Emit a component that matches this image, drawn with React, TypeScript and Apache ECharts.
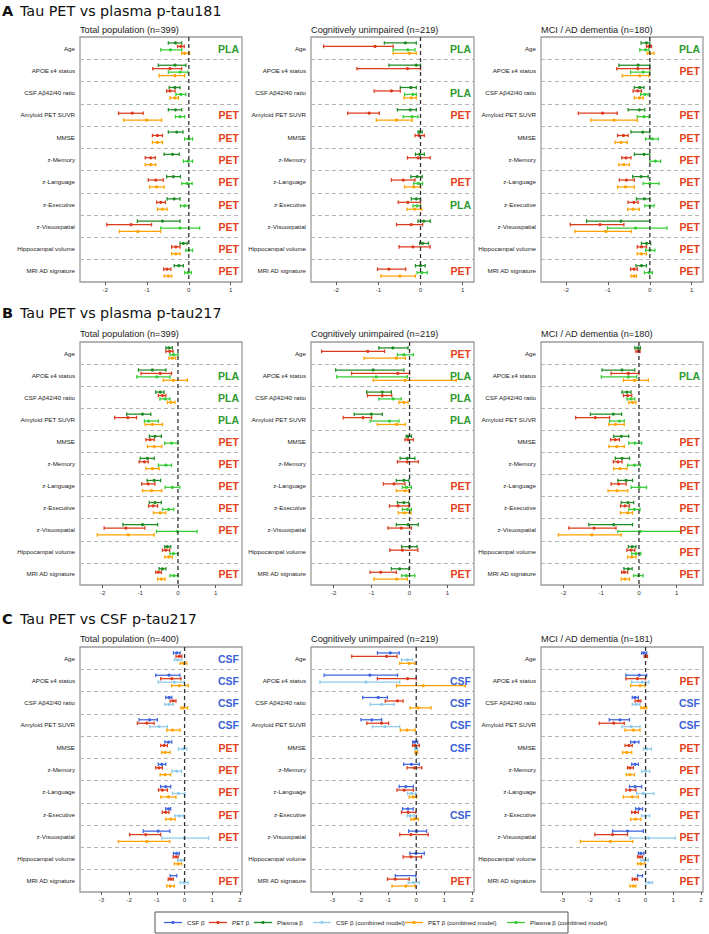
import React, { useEffect, useRef } from "react";
import * as echarts from "echarts";

type Est = [number, number, number] | null; // [estimate, lower, upper]

const variables = [
  "Age",
  "APOE ε4 status",
  "CSF Aβ42/40 ratio",
  "Amyloid PET SUVR",
  "MMSE",
  "z-Memory",
  "z-Language",
  "z-Executive",
  "z-Visuospatial",
  "Hippocampal volume",
  "MRI AD signature",
];

const rowTitles = [
  ["A", "Tau PET vs plasma p-tau181"],
  ["B", "Tau PET vs plasma p-tau217"],
  ["C", "Tau PET vs CSF p-tau217"],
];
const colTitlesA = ["Total population (n=399)", "Cognitively unimpaired (n=219)", "MCI / AD dementia (n=180)"];
const colTitlesB = ["Total population (n=399)", "Cognitively unimpaired (n=219)", "MCI / AD dementia (n=180)"];
const colTitlesC = ["Total population (n=400)", "Cognitively unimpaired (n=219)", "MCI / AD dementia (n=181)"];

const ticksAB = [-2, -1, 0, 1];
const ticksC = [-3, -2, -1, 0, 1, 2];

const legendNames = [
  "CSF β",
  "PET β",
  "Plasma β",
  "CSF β (combined model)",
  "PET β (combined model)",
  "Plasma β (combined model)",
];

// ---------- Panel A: Tau PET vs plasma p-tau181 ----------
const A1_plasma: Est[] = [[-0.32,-0.49,-0.17],[-0.33,-0.73,-0.07],[-0.33,-0.47,-0.21],[-0.32,-0.49,-0.17],[-0.29,-0.49,-0.14],[-0.39,-0.59,-0.23],[-0.37,-0.53,-0.20],[-0.35,-0.52,-0.21],[-0.63,-1.23,-0.21],[-0.13,-0.21,-0.04],[-0.24,-0.35,-0.13]];
const A1_pet: Est[] = [[-0.19,-0.27,-0.11],[-0.45,-0.86,-0.17],[-0.45,-0.53,-0.33],[-1.35,-1.68,-1.09],[-0.75,-0.87,-0.63],[-0.91,-1.04,-0.80],[-0.79,-0.97,-0.61],[-0.67,-0.77,-0.56],[-1.38,-1.96,-0.89],[-0.31,-0.41,-0.21],[-0.52,-0.60,-0.43]];
const A1_plasmaC: Est[] = [[-0.44,-0.67,-0.17],[-0.21,-0.49,-0.02],[-0.19,-0.31,-0.07],[-0.21,-0.32,-0.10],[0,-0.10,0.09],[-0.02,-0.13,0.09],[-0.04,-0.17,0.08],[-0.10,-0.20,0],[-0.21,-0.67,0.26],[0,-0.07,0.09],[-0.02,-0.10,0.06]];
const A1_petC: Est[] = [[-0.10,-0.17,0.02],[-0.33,-0.71,-0.10],[-0.33,-0.45,-0.25],[-1.01,-1.56,-0.65],[-0.75,-0.87,-0.63],[-0.91,-1.04,-0.79],[-0.77,-0.94,-0.59],[-0.63,-0.75,-0.52],[-1.22,-1.66,-0.67],[-0.31,-0.41,-0.21],[-0.49,-0.59,-0.41]];
const A1_labels = ["PLA","","","PET","PET","PET","PET","PET","PET","PET","PET"];

const A2_plasma: Est[] = [[-0.36,-0.86,-0.10],[-0.10,-0.75,0],[-0.23,-0.48,-0.10],[-0.24,-0.55,-0.10],[-0.02,-0.06,0.04],[-0.02,-0.12,0.09],[-0.08,-0.23,0.04],[-0.10,-0.22,0],[0.08,-0.06,0.23],[0.05,-0.02,0.19],[0,-0.12,0.11]];
const A2_pet: Est[] = [[-1.08,-2.30,-0.65],[-0.31,-1.51,0],[-0.69,-1.10,-0.48],[-1.22,-1.73,-0.98],[-0.04,-0.13,0.09],[-0.06,-0.31,0.23],[-0.41,-0.69,-0.13],[-0.30,-0.53,0],[-0.22,-0.57,0.05],[-0.18,-0.51,0.23],[-0.75,-1.02,-0.35]];
const A2_plasmaC: Est[] = [[-0.30,-0.65,-0.13],null,[-0.18,-0.38,-0.10],[-0.20,-0.41,-0.06],null,null,[-0.05,-0.16,0.05],[-0.08,-0.18,0],null,null,[0.03,-0.08,0.16]];
const A2_petC: Est[] = [[-0.26,-0.65,-0.10],null,[-0.22,-0.39,-0.10],[-0.57,-1.05,-0.20],null,null,[-0.16,-0.38,0],[-0.14,-0.32,0.03],null,null,[-0.49,-0.94,-0.12]];
const A2_labels = ["PLA","","PLA","PET","","","PET","PLA","","","PET"];

const A3_plasma: Est[] = [[-0.08,-0.21,0],[-0.28,-0.74,0],[-0.24,-0.37,-0.14],[-0.25,-0.52,-0.12],[-0.17,-0.45,0],[-0.14,-0.37,0],[-0.21,-0.41,-0.04],[-0.13,-0.32,0],[-0.69,-1.51,0],[-0.08,-0.20,0.02],[-0.20,-0.33,-0.08]];
const A3_pet: Est[] = [[-0.02,-0.08,0.04],[-0.29,-0.79,0],[-0.29,-0.40,-0.20],[-1.13,-1.71,-0.78],[-0.63,-0.77,-0.52],[-0.57,-0.67,-0.45],[-0.56,-0.73,-0.37],[-0.38,-0.52,-0.28],[-1.19,-1.90,-0.62],[-0.20,-0.30,-0.08],[-0.38,-0.46,-0.30]];
const A3_plasmaC: Est[] = [[-0.10,-0.24,-0.02],[-0.16,-0.46,0],[-0.12,-0.22,-0.04],[-0.14,-0.30,-0.02],[0.06,-0.10,0.20],[0.13,0,0.26],[0,-0.16,0.22],[0,-0.12,0.10],[-0.34,-1.01,0.41],[0,-0.10,0.12],[-0.02,-0.13,0.06]];
const A3_petC: Est[] = [[0,-0.06,0.10],[-0.24,-0.66,-0.02],[-0.25,-0.37,-0.16],[-0.86,-1.41,-0.30],[-0.69,-0.83,-0.54],[-0.62,-0.74,-0.49],[-0.58,-0.77,-0.37],[-0.40,-0.53,-0.25],[-1.05,-1.79,-0.44],[-0.20,-0.30,-0.08],[-0.38,-0.45,-0.32]];
const A3_labels = ["PLA","PET","","PET","PET","PET","PET","PET","PET","PET","PET"];

// ---------- Panel B: Tau PET vs plasma p-tau217 ----------
const B1_plasma: Est[] = [[-0.24,-0.32,-0.15],[-0.68,-1.05,-0.32],[-0.47,-0.59,-0.37],[-0.94,-1.36,-0.72],[-0.61,-0.76,-0.44],[-0.81,-1.00,-0.63],[-0.63,-0.82,-0.46],[-0.61,-0.76,-0.44],[-0.94,-1.46,-0.54],[-0.28,-0.35,-0.19],[-0.41,-0.50,-0.32]];
const B1_pet: Est[] = [[-0.22,-0.32,-0.13],[-0.47,-0.98,-0.17],[-0.41,-0.52,-0.32],[-1.33,-1.68,-1.10],[-0.74,-0.85,-0.63],[-0.89,-1.03,-0.79],[-0.79,-0.96,-0.61],[-0.66,-0.78,-0.54],[-1.38,-1.96,-0.88],[-0.32,-0.41,-0.22],[-0.52,-0.59,-0.44]];
const B1_plasmaC: Est[] = [[-0.11,-0.21,0],[-0.56,-1.09,-0.21],[-0.34,-0.48,-0.21],[-0.78,-0.89,-0.52],[-0.17,-0.35,0],[-0.32,-0.52,-0.17],[-0.15,-0.34,0.05],[-0.25,-0.41,-0.11],[-0.02,-0.57,0.51],[-0.12,-0.21,0],[-0.11,-0.21,0.01]];
const B1_petC: Est[] = [[-0.15,-0.24,-0.06],[-0.12,-0.39,0.25],[-0.18,-0.28,-0.08],[-0.68,-0.87,-0.41],[-0.63,-0.81,-0.43],[-0.68,-0.85,-0.50],[-0.70,-0.94,-0.43],[-0.47,-0.65,-0.32],[-1.32,-2.14,-0.63],[-0.24,-0.35,-0.15],[-0.44,-0.54,-0.34]];
const B1_labels = ["","PLA","PLA","PLA","PET","PET","PET","PET","PET","","PET"];

const B2_plasma: Est[] = [[-0.44,-0.81,-0.04],[-0.96,-1.95,-0.15],[-0.72,-1.13,-0.48],[-1.01,-1.46,-0.72],[-0.04,-0.09,0.05],[-0.06,-0.25,0.14],[-0.15,-0.35,-0.02],[-0.15,-0.32,-0.02],[-0.04,-0.35,0.23],[0,-0.21,0.20],[-0.26,-0.48,-0.02]];
const B2_pet: Est[] = [[-1.10,-2.32,-0.66],[-0.31,-1.53,0],[-0.72,-1.11,-0.47],[-1.23,-1.75,-1.00],[-0.04,-0.12,0.10],[-0.06,-0.32,0.23],[-0.41,-0.69,-0.12],[-0.30,-0.53,-0.02],[-0.22,-0.57,0.05],[-0.19,-0.52,0.22],[-0.76,-1.04,-0.35]];
const B2_plasmaC: Est[] = [[-0.15,-0.32,0.10],[-0.88,-1.92,-0.06],[-0.43,-0.81,-0.22],[-0.53,-1.04,-0.28],null,null,[-0.08,-0.19,0.05],[-0.06,-0.19,0.05],null,null,[-0.09,-0.21,0.14]];
const B2_petC: Est[] = [[-0.35,-1.20,-0.11],[-0.12,-0.96,1.23],[-0.15,-0.28,-0.04],[-0.34,-0.85,-0.11],null,null,[-0.12,-0.35,-0.02],[-0.13,-0.30,0.04],null,null,[-0.34,-0.94,-0.06]];
const B2_labels = ["PET","PLA","PLA","PLA","","","PET","PET","","","PET"];

const B3_plasma: Est[] = [[-0.03,-0.11,0.04],[-0.45,-0.98,-0.11],[-0.32,-0.45,-0.21],[-0.68,-1.29,-0.46],[-0.47,-0.67,-0.27],[-0.45,-0.63,-0.25],[-0.34,-0.56,-0.17],[-0.29,-0.47,-0.14],[-0.67,-1.33,-0.17],[-0.18,-0.28,-0.08],[-0.28,-0.40,-0.18]];
const B3_pet: Est[] = [[-0.02,-0.08,0.03],[-0.28,-0.74,0],[-0.30,-0.41,-0.19],[-1.16,-1.68,-0.78],[-0.63,-0.75,-0.52],[-0.56,-0.68,-0.45],[-0.54,-0.74,-0.34],[-0.37,-0.49,-0.25],[-1.19,-1.86,-0.61],[-0.21,-0.32,-0.11],[-0.39,-0.46,-0.30]];
const B3_plasmaC: Est[] = [null,[-0.28,-1.00,-0.06],[-0.21,-0.32,-0.11],[-0.52,-0.78,-0.39],[-0.11,-0.27,0.07],[-0.12,-0.30,0.04],[0.01,-0.21,0.20],[-0.12,-0.27,0.03],[0.03,-0.56,1.12],[-0.08,-0.19,0.05],[-0.02,-0.14,0.11]];
const B3_petC: Est[] = [null,[-0.12,-0.41,0.25],[-0.17,-0.27,-0.08],[-0.62,-0.80,-0.39],[-0.59,-0.80,-0.39],[-0.50,-0.67,-0.32],[-0.58,-0.82,-0.30],[-0.30,-0.49,-0.17],[-1.25,-2.14,-0.47],[-0.19,-0.30,-0.08],[-0.37,-0.47,-0.25]];
const B3_labels = ["","PLA","","","PET","PET","PET","PET","PET","PET","PET"];

// ---------- Panel C: Tau PET vs CSF p-tau217 ----------
const C1_csf: Est[] = [[-0.28,-0.40,-0.16],[-0.56,-1.04,-0.17],[-0.56,-0.68,-0.46],[-1.26,-1.64,-0.98],[-0.58,-0.71,-0.46],[-0.82,-0.95,-0.68],[-0.68,-0.86,-0.50],[-0.58,-0.68,-0.50],[-0.95,-1.49,-0.53],[-0.29,-0.40,-0.19],[-0.40,-0.52,-0.28]];
const C1_pet: Est[] = [[-0.19,-0.31,-0.10],[-0.46,-0.86,-0.13],[-0.41,-0.52,-0.31],[-1.36,-1.70,-1.10],[-0.74,-0.86,-0.62],[-0.92,-1.04,-0.80],[-0.80,-0.94,-0.62],[-0.68,-0.80,-0.56],[-1.40,-1.98,-0.86],[-0.31,-0.41,-0.23],[-0.50,-0.59,-0.41]];
const C1_csfC: Est[] = [[-0.25,-0.37,-0.10],[-0.37,-0.95,-0.01],[-0.56,-0.71,-0.41],[-0.92,-1.26,-0.62],[-0.05,-0.22,0.08],[-0.28,-0.46,-0.11],[-0.22,-0.43,0.02],[-0.19,-0.35,-0.04],[-0.01,-0.82,0.87],[-0.13,-0.25,-0.01],[-0.01,-0.16,0.13]];
const C1_petC: Est[] = [[-0.04,-0.16,0.08],[-0.19,-0.47,0.13],[-0.04,-0.13,0.11],[-0.43,-0.64,-0.16],[-0.70,-0.83,-0.52],[-0.70,-0.88,-0.50],[-0.58,-0.86,-0.31],[-0.50,-0.68,-0.34],[-1.36,-2.39,-0.53],[-0.23,-0.37,-0.11],[-0.52,-0.64,-0.37]];
const C1_labels = ["CSF","CSF","CSF","CSF","PET","PET","PET","PET","PET","","PET"];

const C2_csf: Est[] = [[-0.93,-1.39,-0.61],[-1.66,-3.30,-0.67],[-1.36,-1.92,-1.03],[-1.59,-1.98,-1.24],[-0.05,-0.13,0.05],[-0.17,-0.45,0.11],[-0.37,-0.61,-0.10],[-0.30,-0.49,-0.11],[0.02,-0.27,0.37],[-0.01,-0.23,0.29],[-0.37,-0.75,-0.01]];
const C2_pet: Est[] = [[-1.06,-2.31,-0.69],[-0.31,-1.39,0],[-0.67,-1.11,-0.47],[-1.24,-1.77,-0.99],[-0.04,-0.13,0.11],[-0.07,-0.33,0.20],[-0.43,-0.69,-0.10],[-0.29,-0.53,-0.01],[-0.19,-0.59,0.43],[-0.19,-0.47,0.19],[-0.75,-1.03,-0.25]];
const C2_csfC: Est[] = [[-0.31,-0.53,-0.13],[-1.80,-3.45,-0.59],[-1.24,-1.65,-0.79],[-1.12,-1.57,-0.59],[0,-0.05,0.05],null,[-0.17,-0.31,-0.01],[-0.22,-0.33,-0.07],null,null,[-0.10,-0.29,0.11]];
const C2_petC: Est[] = [[-0.25,-0.59,-0.05],[0.25,-0.70,1.76],[0.07,-0.22,0.53],[-0.33,-0.57,-0.04],[0,-0.04,0.05],null,[-0.11,-0.25,0.02],[-0.07,-0.19,0.08],null,null,[-0.37,-0.87,-0.04]];
const C2_labels = ["","CSF","CSF","CSF","CSF","","","CSF","","","PET"];

const C3_csf: Est[] = [[-0.06,-0.14,0.04],[-0.23,-0.71,0.04],[-0.38,-0.48,-0.26],[-0.92,-1.31,-0.58],[-0.40,-0.54,-0.24],[-0.38,-0.50,-0.26],[-0.38,-0.58,-0.14],[-0.24,-0.36,-0.11],[-0.65,-1.19,-0.08],[-0.17,-0.26,-0.06],[-0.20,-0.29,-0.11]];
const C3_pet: Est[] = [[0.01,-0.05,0.07],[-0.29,-0.71,0],[-0.26,-0.38,-0.17],[-1.15,-1.67,-0.77],[-0.60,-0.74,-0.48],[-0.56,-0.65,-0.44],[-0.56,-0.71,-0.35],[-0.38,-0.50,-0.26],[-1.19,-1.83,-0.65],[-0.20,-0.29,-0.11],[-0.38,-0.48,-0.29]];
const C3_csfC: Est[] = [null,[-0.12,-0.50,0.12],[-0.35,-0.48,-0.20],[-0.52,-0.86,-0.20],[0.04,-0.08,0.21],[0,-0.14,0.15],[-0.08,-0.32,0.30],[0,-0.14,0.15],[0.12,-0.56,1.07],[-0.05,-0.17,0.10],[0.13,0.01,0.25]];
const C3_petC: Est[] = [null,[-0.20,-0.54,-0.02],[-0.06,-0.17,0.04],[-0.44,-0.74,-0.20],[-0.68,-0.83,-0.50],[-0.56,-0.70,-0.40],[-0.48,-0.80,-0.26],[-0.36,-0.54,-0.17],[-1.27,-2.35,-0.46],[-0.17,-0.29,-0.02],[-0.44,-0.56,-0.35]];
const C3_labels = ["","PET","CSF","CSF","PET","PET","PET","PET","PET","PET","PET"];

// ---------- styling ----------
const COL = {
  csf: "#3d63dd",
  pet: "#dc3a1c",
  plasma: "#1f8b24",
  csfC: "#8ecbea",
  petC: "#ffa200",
  plasmaC: "#36cc36",
};
const LABEL_COL: Record<string, string> = { PLA: "#2f9a2f", PET: "#e3401c", CSF: "#3b62d6" };
const SANS = "'Liberation Sans', Arial, sans-serif";

const colLayout = [
  { left: 80, width: 162 },
  { left: 311, width: 163 },
  { left: 541, width: 162 },
];
const rowLayout = [
  { top: 37, height: 245, titleY: 11, subY: 30, range: [-2.6, 1.27], ticks: ticksAB, sub: colTitlesA },
  { top: 342, height: 243, titleY: 313, subY: 334, range: [-2.6, 1.7], ticks: ticksAB, sub: colTitlesB },
  { top: 647, height: 245, titleY: 619, subY: 639, range: [-3.77, 2.07], ticks: ticksC, sub: colTitlesC },
];

const panels = [
  [
    { series: [A1_plasma, A1_pet, A1_plasmaC, A1_petC], colors: [COL.plasma, COL.pet, COL.plasmaC, COL.petC], labels: A1_labels },
    { series: [A2_plasma, A2_pet, A2_plasmaC, A2_petC], colors: [COL.plasma, COL.pet, COL.plasmaC, COL.petC], labels: A2_labels },
    { series: [A3_plasma, A3_pet, A3_plasmaC, A3_petC], colors: [COL.plasma, COL.pet, COL.plasmaC, COL.petC], labels: A3_labels },
  ],
  [
    { series: [B1_plasma, B1_pet, B1_plasmaC, B1_petC], colors: [COL.plasma, COL.pet, COL.plasmaC, COL.petC], labels: B1_labels },
    { series: [B2_plasma, B2_pet, B2_plasmaC, B2_petC], colors: [COL.plasma, COL.pet, COL.plasmaC, COL.petC], labels: B2_labels },
    { series: [B3_plasma, B3_pet, B3_plasmaC, B3_petC], colors: [COL.plasma, COL.pet, COL.plasmaC, COL.petC], labels: B3_labels },
  ],
  [
    { series: [C1_csf, C1_pet, C1_csfC, C1_petC], colors: [COL.csf, COL.pet, COL.csfC, COL.petC], labels: C1_labels },
    { series: [C2_csf, C2_pet, C2_csfC, C2_petC], colors: [COL.csf, COL.pet, COL.csfC, COL.petC], labels: C2_labels },
    { series: [C3_csf, C3_pet, C3_csfC, C3_petC], colors: [COL.csf, COL.pet, COL.csfC, COL.petC], labels: C3_labels },
  ],
];

function barRenderer(slot: number, color: string, band: number) {
  return (_params: any, api: any) => {
    const cat = api.value(0);
    const est = api.value(1);
    const lo = api.value(2);
    const hi = api.value(3);
    const c = api.coord([est, cat]);
    const y = c[1] + (slot - 1.5) * band * 0.155;
    const x1 = api.coord([lo, cat])[0];
    const x2 = api.coord([hi, cat])[0];
    const st = { stroke: color, lineWidth: 1.25 };
    return {
      type: "group",
      children: [
        { type: "line", shape: { x1, y1: y, x2, y2: y }, style: st },
        { type: "line", shape: { x1, y1: y - 1.8, x2: x1, y2: y + 1.8 }, style: st },
        { type: "line", shape: { x1: x2, y1: y - 1.8, x2: x2, y2: y + 1.8 }, style: st },
        { type: "circle", shape: { cx: c[0], cy: y, r: 1.6 }, style: { fill: color } },
      ],
    };
  };
}

function buildOption() {
  const grid: any[] = [];
  const xAxis: any[] = [];
  const yAxis: any[] = [];
  const series: any[] = [];
  const graphic: any[] = [];

  rowLayout.forEach((row, r) => {
    graphic.push({
      type: "text", x: 2, y: row.titleY,
      style: { text: rowTitles[r][0], font: "bold 14.5px 'DejaVu Sans', Verdana, sans-serif", fill: "#111", verticalAlign: "middle" },
    });
    graphic.push({
      type: "text", x: 20, y: row.titleY,
      style: { text: rowTitles[r][1], font: "14.3px 'DejaVu Sans', Verdana, sans-serif", fill: "#111", verticalAlign: "middle" },
    });
    colLayout.forEach((col, c) => {
      const gi = grid.length;
      const p = panels[r][c];
      const band = row.height / variables.length;
      graphic.push({
        type: "text", x: col.left, y: row.subY,
        style: { text: row.sub[c], font: `9.2px ${SANS}`, fill: "#222", verticalAlign: "middle" },
      });
      grid.push({
        left: col.left, top: row.top, width: col.width, height: row.height,
        show: true, borderColor: "#9c9c9c", borderWidth: 1.3, backgroundColor: "transparent",
        containLabel: false,
      });
      xAxis.push({
        type: "value", gridIndex: gi, min: row.range[0], max: row.range[1],
        axisLine: { show: false },
        splitLine: { show: false },
        axisTick: { show: true, customValues: row.ticks, length: 3, lineStyle: { color: "#555", width: 1 } },
        axisLabel: {
          customValues: row.ticks, fontSize: 6.2, color: "#333", margin: 4, fontFamily: SANS,
          formatter: (v: number) => String(v),
        },
      });
      yAxis.push({
        type: "category", gridIndex: gi, data: variables, inverse: true, boundaryGap: true,
        axisLine: { show: false }, axisTick: { show: false },
        axisLabel: { fontSize: 6.2, color: "#222", margin: 5, fontFamily: SANS, interval: 0 },
        splitLine: { show: true, showMinLine: false, showMaxLine: false, lineStyle: { color: "#b4b4b4", type: [4, 3], width: 1 } },
      });
      p.series.forEach((arr, slot) => {
        const data: number[][] = [];
        arr.forEach((d, i) => {
          if (d) data.push([i, d[0], d[1], d[2]]);
        });
        series.push({
          type: "custom", xAxisIndex: gi, yAxisIndex: gi, silent: true, z: 3,
          encode: { y: 0, x: [1, 2, 3] },
          renderItem: barRenderer(slot, p.colors[slot], band),
          data,
        });
      });
      // zero reference line
      series.push({
        type: "custom", xAxisIndex: gi, yAxisIndex: gi, silent: true, z: 4,
        encode: { x: 0, y: 1 },
        data: [[0, 0]],
        renderItem: (params: any, api: any) => {
          const x = api.coord([api.value(0), 0])[0];
          const cs = params.coordSys;
          return {
            type: "line",
            shape: { x1: x, y1: cs.y, x2: x, y2: cs.y + cs.height },
            style: { stroke: "#333", lineWidth: 1.3, lineDash: [4, 3] },
          };
        },
      });
      // PLA / PET / CSF labels
      const labs = p.labels;
      const labData: number[][] = [];
      labs.forEach((t, i) => { if (t) labData.push([row.range[1], i]); });
      series.push({
        type: "custom", xAxisIndex: gi, yAxisIndex: gi, silent: true, z: 5,
        encode: { x: 0, y: 1 },
        data: labData,
        renderItem: (_params: any, api: any) => {
          const i = api.value(1);
          const pt = api.coord([api.value(0), i]);
          const t = labs[i];
          return {
            type: "text", x: pt[0] - 3, y: pt[1] + 0.5,
            style: { text: t, fill: LABEL_COL[t], font: `bold 10.5px ${SANS}`, align: "right", verticalAlign: "middle" },
          };
        },
      });
    });
  });

  // legend box (drawn)
  const legX = 155, legY = 912, legW = 413, legH = 21;
  graphic.push({ type: "rect", shape: { x: legX, y: legY, width: legW, height: legH }, style: { fill: "#fff", stroke: "#555", lineWidth: 1 } });
  const legColors = [COL.csf, COL.pet, COL.plasma, COL.csfC, COL.petC, COL.plasmaC];
  const legStarts = [164, 209, 254, 313, 405, 507];
  const cy = legY + legH / 2;
  legendNames.forEach((name, i) => {
    const x0 = legStarts[i];
    graphic.push({ type: "line", shape: { x1: x0, y1: cy, x2: x0 + 18, y2: cy }, style: { stroke: legColors[i], lineWidth: 1.3 } });
    graphic.push({ type: "circle", shape: { cx: x0 + 9, cy, r: 1.6 }, style: { fill: legColors[i] } });
    graphic.push({ type: "text", x: x0 + 23, y: cy, style: { text: name, font: `6.2px ${SANS}`, fill: "#222", verticalAlign: "middle" } });
  });

  return { animation: false, backgroundColor: "#fff", grid, xAxis, yAxis, series, graphic };
}

export default function App() {
  const ref = useRef<HTMLDivElement>(null);
  useEffect(() => {
    if (!ref.current) return;
    const chart = echarts.init(ref.current, undefined, { renderer: "svg" });
    chart.setOption(buildOption() as any);
    return () => chart.dispose();
  }, []);
  return <div ref={ref} style={{ position: "fixed", left: 0, top: 0, width: 709, height: 934, background: "#fff" }} />;
}
